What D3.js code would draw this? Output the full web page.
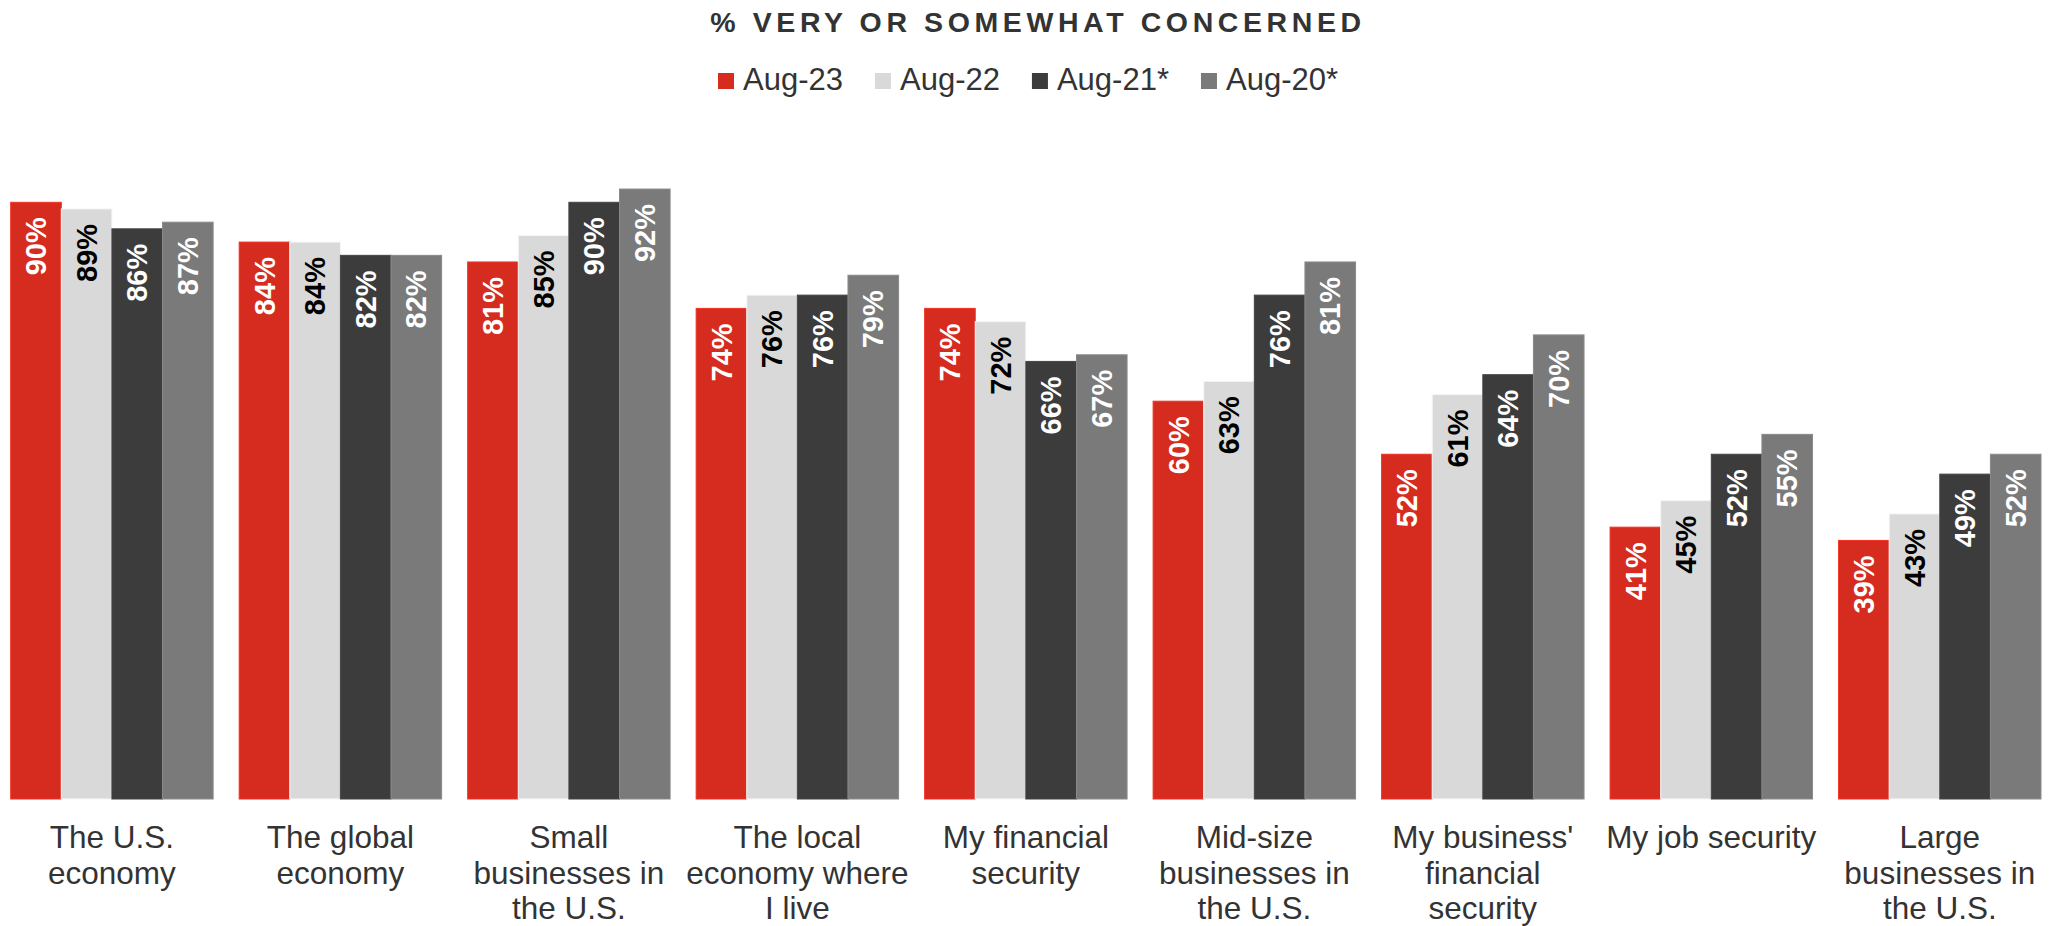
<!DOCTYPE html>
<html>
<head>
<meta charset="utf-8">
<script src="https://cdn.jsdelivr.net/npm/d3@7"></script>
<style>
  html, body { margin: 0; padding: 0; background: #fff; }
  svg { display: block; font-family: "Liberation Sans", Arial, sans-serif; }
</style>
</head>
<body>
<svg id="chart" width="2051" height="926"></svg>
<script>
// Concern items (x categories), drawn with line breaks
const categories = [
  "The U.S. economy",
  "The global economy",
  "Small businesses in the U.S.",
  "The local economy where I live",
  "My financial security",
  "Mid-size businesses in the U.S.",
  "My business' financial security",
  "My job security",
  "Large businesses in the U.S."
];
const categoryLines = [
  ["The U.S.", "economy"],
  ["The global", "economy"],
  ["Small", "businesses in", "the U.S."],
  ["The local", "economy where", "I live"],
  ["My financial", "security"],
  ["Mid-size", "businesses in", "the U.S."],
  ["My business'", "financial", "security"],
  ["My job security"],
  ["Large", "businesses in", "the U.S."]
];

// Survey waves
const seriesNames = ["Aug-23", "Aug-22", "Aug-21*", "Aug-20*"];

// % very or somewhat concerned, per wave
const aug23 = [90, 84, 81, 74, 74, 60, 52, 41, 39];
const aug22 = [89, 84, 85, 76, 72, 63, 61, 45, 43];
const aug21 = [86, 82, 90, 76, 66, 76, 64, 52, 49];
const aug20 = [87, 82, 92, 79, 67, 81, 70, 55, 52];
const seriesValues = [aug23, aug22, aug21, aug20];

const seriesColors = ["#D62B1F", "#D9D9D9", "#3C3C3C", "#7A7A7A"];
const labelColors = ["#FFFFFF", "#000000", "#FFFFFF", "#FFFFFF"];

const titleText = "% VERY OR SOMEWHAT CONCERNED";

const svg = d3.select("#chart");

// Scales
const x0 = d3.scaleBand()
  .domain(categories)
  .range([10.7, 2041])
  .paddingInner(0.114)
  .paddingOuter(0);

const x1 = d3.scaleBand()
  .domain(seriesNames)
  .range([0, x0.bandwidth()])
  .padding(0);

const y = d3.scaleLinear().domain([0, 100]).range([799, 136]);

// Title
svg.append("text")
  .attr("x", 1038)
  .attr("y", 32)
  .attr("text-anchor", "middle")
  .attr("fill", "#333333")
  .style("font-weight", "bold")
  .style("font-size", "28.5px")
  .style("letter-spacing", "4.6px")
  .text(titleText);

// Legend
const legend = svg.append("g");
let lx = 718;
seriesNames.forEach((name, i) => {
  const item = legend.append("g").attr("transform", `translate(${lx},0)`);
  item.append("rect")
    .attr("x", 0).attr("y", 73)
    .attr("width", 16).attr("height", 16)
    .attr("fill", seriesColors[i]);
  const t = item.append("text")
    .attr("x", 25).attr("y", 90)
    .attr("fill", "#333333")
    .style("font-size", "31px")
    .text(name);
  lx += 25 + t.node().getComputedTextLength() + 32;
});

// Bars
const groups = svg.append("g").selectAll("g")
  .data(categories)
  .join("g")
  .attr("transform", d => `translate(${x0(d)},0)`);

groups.each(function(cat, ci) {
  const g = d3.select(this);
  seriesNames.forEach((s, si) => {
    const v = seriesValues[si][ci];
    const c = d3.color(seriesColors[si]);
    g.append("rect")
      .attr("x", x1(s))
      .attr("y", y(v))
      .attr("width", x1.bandwidth())
      .attr("height", y(0) - y(v))
      .attr("fill", seriesColors[si])
      .attr("stroke", c.brighter(0.35).formatHex())
      .attr("stroke-width", 1);
    const cx = x1(s) + x1.bandwidth() / 2;
    const ty = y(v) + 15;
    g.append("text")
      .attr("transform", `translate(${cx},${ty}) rotate(-90)`)
      .attr("text-anchor", "end")
      .attr("dy", "0.35em")
      .attr("fill", labelColors[si])
      .style("font-weight", "bold")
      .style("font-size", "29px")
      .text(v + "%");
  });
});

// Category axis labels
const xAxis = svg.append("g");
categories.forEach((cat, ci) => {
  const cx = x0(cat) + x0.bandwidth() / 2;
  const t = xAxis.append("text")
    .attr("text-anchor", "middle")
    .attr("fill", "#333333")
    .style("font-size", "31.5px");
  categoryLines[ci].forEach((line, li) => {
    t.append("tspan")
      .attr("x", cx)
      .attr("y", 848 + li * 35.5)
      .text(line);
  });
});
</script>
</body>
</html>
